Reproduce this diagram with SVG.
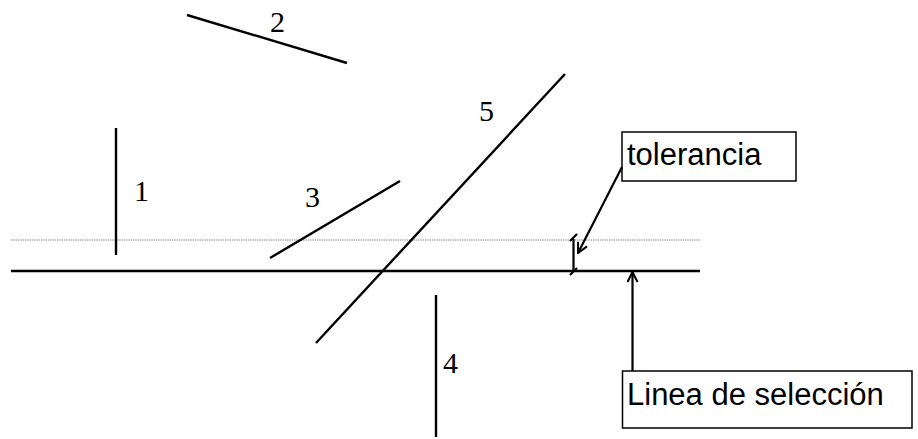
<svg xmlns="http://www.w3.org/2000/svg" width="918" height="439" viewBox="0 0 918 439">
  <style>
    .seg { stroke: #000; stroke-width: 2.4; fill: none; stroke-linecap: butt; }
    .num { font-family: "Liberation Serif", "Times New Roman", serif; font-size: 30px; fill: #000; }
    .lbl { font-family: "Liberation Sans", Arial, sans-serif; font-size: 31px; fill: #000; }
    .box { fill: #fff; stroke: #000; stroke-width: 1.5; }
    .conn { stroke: #000; stroke-width: 2.2; fill: none; }
  </style>
  <defs>
    <marker id="open" viewBox="0 0 12 12" refX="11" refY="6" markerWidth="12" markerHeight="12" markerUnits="userSpaceOnUse" orient="auto">
      <path d="M1,1 L11,6 L1,11" fill="none" stroke="#000" stroke-width="2"/>
    </marker>
  </defs>
  <rect width="918" height="439" fill="#fff"/>

  <!-- tolerance band and selection line -->
  <g id="band">
    <line x1="11" y1="240" x2="700" y2="240" stroke="#888" stroke-width="1" stroke-dasharray="1.5,0.8"/>
    <line x1="11" y1="271" x2="700" y2="271" stroke="#000" stroke-width="2.6"/>
  </g>

  <!-- candidate segments with their numbers -->
  <g id="seg1">
    <line class="seg" x1="116" y1="128" x2="116" y2="255"/>
    <text class="num" x="134" y="201">1</text>
  </g>
  <g id="seg2">
    <line class="seg" x1="187" y1="15" x2="347" y2="63"/>
    <text class="num" x="270" y="32">2</text>
  </g>
  <g id="seg3">
    <line class="seg" x1="270" y1="258" x2="400" y2="181"/>
    <text class="num" x="305" y="207">3</text>
  </g>
  <g id="seg4">
    <line class="seg" x1="436" y1="295" x2="436" y2="437"/>
    <text class="num" x="443" y="373">4</text>
  </g>
  <g id="seg5">
    <line class="seg" x1="565" y1="74" x2="316" y2="343"/>
    <text class="num" x="479" y="121">5</text>
  </g>

  <!-- tolerance dimension mark -->
  <g id="dim">
    <line class="conn" x1="573.5" y1="239" x2="573.5" y2="272"/>
    <line class="conn" x1="570" y1="241" x2="577" y2="234"/>
    <line class="conn" x1="570" y1="275" x2="577" y2="268"/>
  </g>

  <!-- callout boxes -->
  <g id="tolerancia">
    <rect class="box" x="622" y="132" width="174" height="49"/>
    <text class="lbl" x="627" y="165">tolerancia</text>
  </g>
  <g id="seleccion">
    <rect class="box" x="622.5" y="371" width="289.5" height="57"/>
    <text class="lbl" x="627" y="405">Linea de selección</text>
  </g>

  <!-- connectors -->
  <g id="connectors">
    <line class="conn" x1="622" y1="167" x2="578" y2="253" marker-end="url(#open)"/>
    <line class="conn" x1="632.5" y1="371" x2="632.5" y2="272" marker-end="url(#open)"/>
  </g>
</svg>
